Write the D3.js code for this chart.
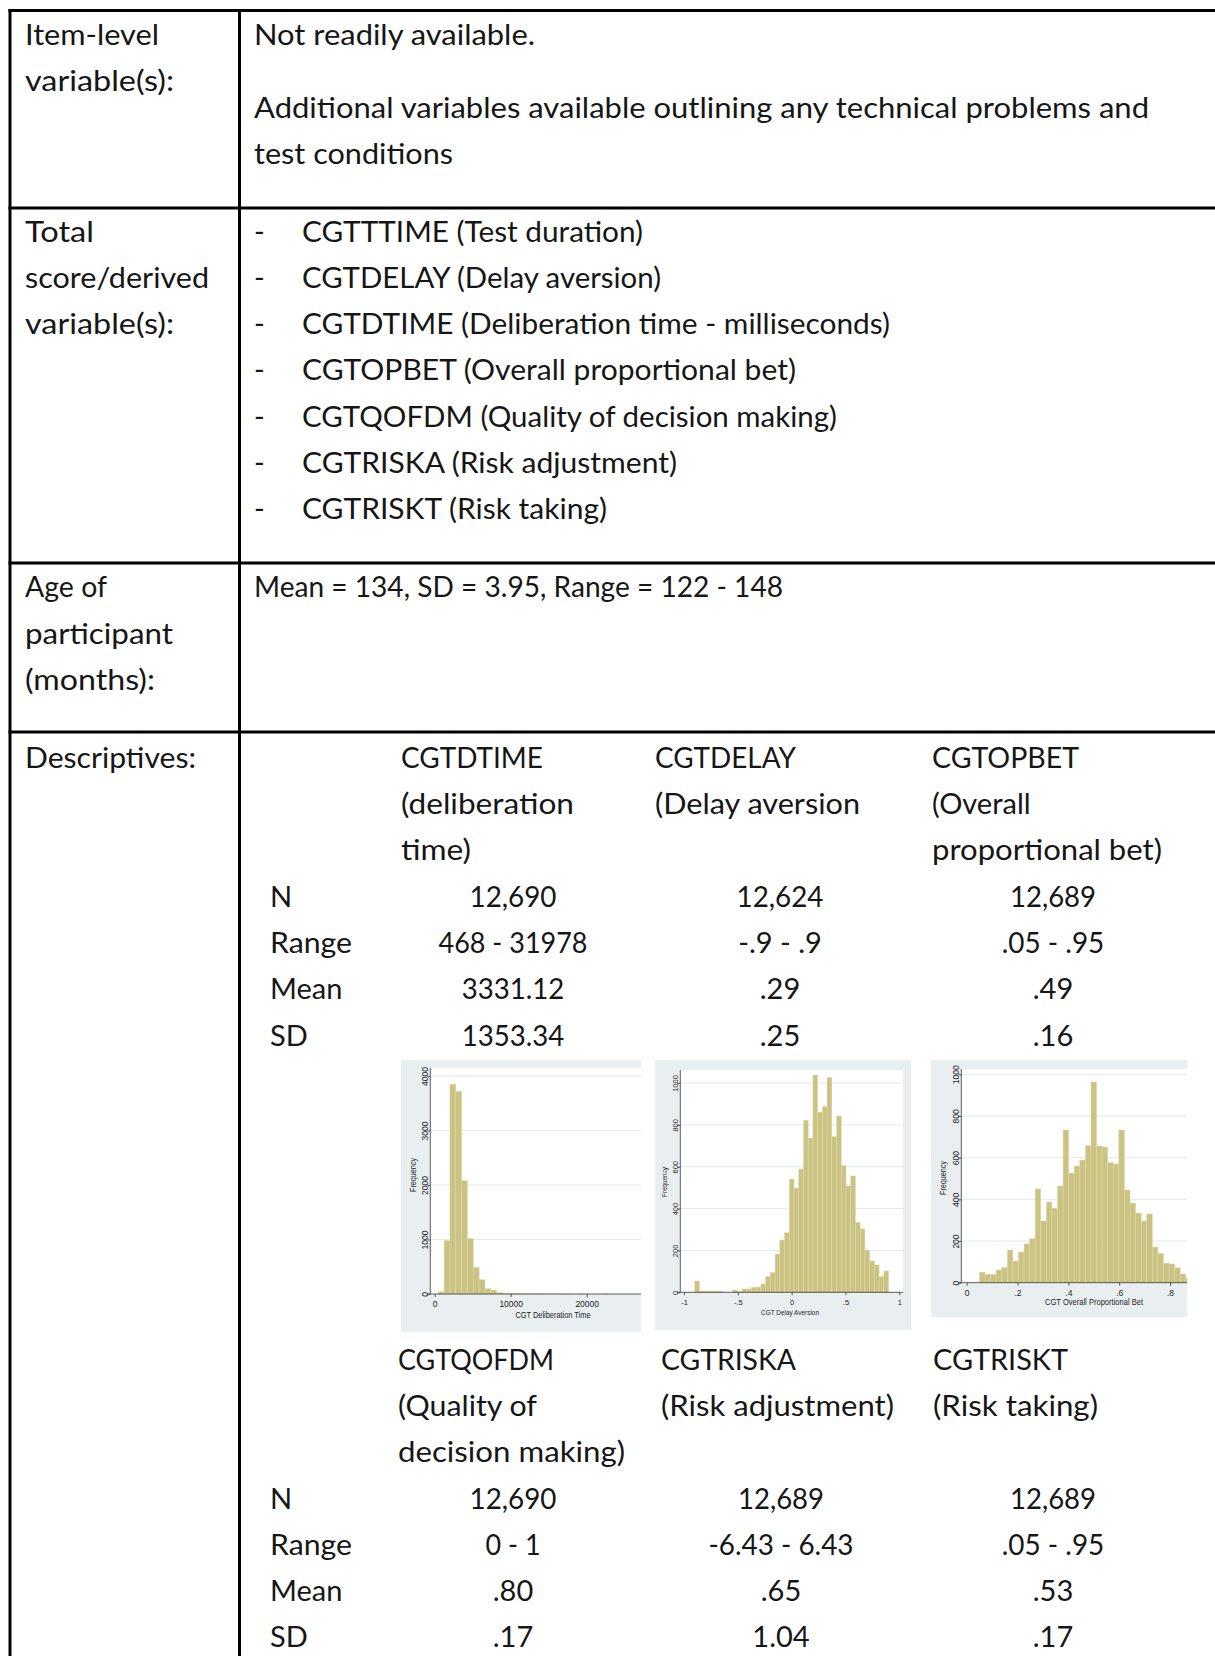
<!DOCTYPE html>
<html><head><meta charset="utf-8">
<script src="https://cdn.jsdelivr.net/npm/d3@7"></script>
<style>
html,body{margin:0;padding:0;background:#fff;}
svg{display:block;}
</style></head>
<body>
<svg id="page" width="1215" height="1656"></svg>
<script>
// ---------------- DATA ----------------
const rowLabels = [["Item-level","variable(s):"],["Total","score/derived","variable(s):"],["Age of","participant","(months):"],["Descriptives:"]];
const itemLevelText = ["Not readily available.","Additional variables available outlining any technical problems and","test conditions"];
const derivedVars = ["CGTTTIME (Test duration)","CGTDELAY (Delay aversion)","CGTDTIME (Deliberation time - milliseconds)","CGTOPBET (Overall proportional bet)","CGTQOFDM (Quality of decision making)","CGTRISKA (Risk adjustment)","CGTRISKT (Risk taking)"];
const ageText = "Mean = 134, SD = 3.95, Range = 122 - 148";
const statLabels = ["N","Range","Mean","SD"];
const headers1 = [["CGTDTIME","(deliberation","time)"],["CGTDELAY","(Delay aversion"],["CGTOPBET","(Overall","proportional bet)"]];
const values1 = [["12,690","468 - 31978","3331.12","1353.34"],["12,624","-.9 - .9",".29",".25"],["12,689",".05 - .95",".49",".16"]];
const headers2 = [["CGTQOFDM","(Quality of","decision making)"],["CGTRISKA","(Risk adjustment)"],["CGTRISKT","(Risk taking)"]];
const values2 = [["12,690","0 - 1",".80",".17"],["12,689","-6.43 - 6.43",".65","1.04"],["12,689",".05 - .95",".53",".17"]];

// histogram 1: CGT Deliberation Time (41 bins from 468 to 31978)
const dtimeRange = [468, 31978];
const dtimeCounts = [40,982,3848,3720,2079,1018,488,262,98,73,24,12,8,6,4,3,3,2,2,1,1,1,1,0,1,0,0,0,1,0,0,0,0,0,0,0,0,0,0,0,1];
const dtimeXTicks = [0,10000,20000];
const dtimeYTicks = [0,1000,2000,3000,4000];
// histogram 2: CGT Delay Aversion (41 bins from -.9 to .9)
const delayRange = [-0.9, 0.9];
const delayCounts = [54,6,6,6,6,5,0,0,11,5,16,16,24,25,40,75,94,183,250,285,541,498,589,822,737,1038,861,887,1027,744,842,605,508,556,334,303,202,150,131,75,102];
const delayXTicks = [-1,-0.5,0,0.5,1];
const delayXLabels = ["-1","-.5","0",".5","1"];
const delayYTicks = [0,200,400,600,800,1000];
// histogram 3: CGT Overall Proportional Bet (41 bins from .05 to .95)
const opbetRange = [0.05, 0.95];
const opbetCounts = [51,40,40,61,72,157,104,147,186,211,450,296,387,358,464,733,526,560,589,658,963,656,651,576,570,733,445,382,334,296,330,171,141,94,90,72,42,24,15,10,8];
const opbetXTicks = [0,0.2,0.4,0.6,0.8];
const opbetXLabels = ["0",".2",".4",".6",".8"];
const opbetYTicks = [0,200,400,600,800,1000];

// ---------------- STYLE: rendered widths of strings in the reference ----------------
const textWidths = new Map([
  ["Item-level",134],["variable(s):",149],["Total",69],["score/derived",184],["participant",148],
  ["(months):",130],["Descriptives:",171],["Age of",82],
  ["Not readily available.",281],["Additional variables available outlining any technical problems and",895],
  ["test conditions",199],
  ["CGTTTIME (Test duration)",341],["CGTDELAY (Delay aversion)",359],
  ["CGTDTIME (Deliberation time - milliseconds)",588],["CGTOPBET (Overall proportional bet)",494],
  ["CGTQOFDM (Quality of decision making)",535],["CGTRISKA (Risk adjustment)",375],["CGTRISKT (Risk taking)",305],
  ["Mean = 134, SD = 3.95, Range = 122 - 148",529],
  ["CGTDTIME",142],["(deliberation",173],["time)",70],["CGTDELAY",141],["(Delay aversion",205],
  ["CGTOPBET",147],["proportional bet)",230],["CGTQOFDM",156],["(Quality of",139],["decision making)",227],
  ["CGTRISKA",135],["(Risk adjustment)",233],["CGTRISKT",135],["(Risk taking)",165],
  ["Range",82],
  ["12,690",87],["468 - 31978",149],["3331.12",102.5],["1353.34",102.5],["12,624",87],["12,689",86],
  [".05 - .95",102.5],["-6.43 - 6.43",145],["0 - 1",55]
]);

// ---------------- DRAW ----------------
const svg = d3.select("#page");
const FONT = "Lato, 'Source Sans Pro', sans-serif";
const FS = 29;
const INK = "#161616";

function text(x, y, s, anchor) {
  const t = svg.append("text").attr("x", x).attr("y", y).attr("text-anchor", anchor || "start")
    .attr("font-family", FONT).attr("font-size", FS).attr("fill", INK).text(s);
  if (textWidths.has(s)) t.attr("textLength", textWidths.get(s)).attr("lengthAdjust", "spacingAndGlyphs");
}

// table lines
const lineW = 3;
const hLines = [10.5, 208, 563, 732];
hLines.forEach(y => svg.append("line").attr("x1", 8.5).attr("x2", 1215).attr("y1", y).attr("y2", y)
  .attr("stroke", "#000").attr("stroke-width", lineW));
[10, 239.5].forEach(x => svg.append("line").attr("x1", x).attr("x2", x).attr("y1", 9).attr("y2", 1656)
  .attr("stroke", "#000").attr("stroke-width", lineW));

// left column labels
const labelBase = [[45, 91], [242, 288, 334], [597, 644, 690], [768]];
rowLabels.forEach((lines, i) => lines.forEach((s, j) => text(25, labelBase[i][j], s)));

// row 1 content
[45, 118, 164].forEach((y, i) => text(254, y, itemLevelText[i]));
// row 2 bullets
const bulletY = [242, 288, 334, 380, 427, 473, 519];
derivedVars.forEach((s, i) => { text(254, bulletY[i], "-"); text(302, bulletY[i], s); });
// row 3
text(254, 597, ageText);

// descriptives group 1
const colLeft1 = [401, 655, 932];
const colCenter = [513, 780, 1053];
const headY1 = [768, 814, 860];
headers1.forEach((h, c) => h.forEach((s, j) => text(colLeft1[c], headY1[j], s)));
const statY1 = [906.5, 952.5, 999, 1045.5];
statLabels.forEach((s, i) => text(270, statY1[i], s));
values1.forEach((vals, c) => vals.forEach((s, i) => text(colCenter[c], statY1[i], s, "middle")));

// descriptives group 2
const colLeft2 = [398, 661, 933];
const headY2 = [1370, 1416, 1462];
headers2.forEach((h, c) => h.forEach((s, j) => text(colLeft2[c], headY2[j], s)));
const statY2 = [1509, 1555, 1601, 1647];
statLabels.forEach((s, i) => text(270, statY2[i], s));
values2.forEach((vals, c) => vals.forEach((s, i) => text(colCenter[c] + (c === 1 ? 1 : 0), statY2[i], s, "middle")));

// ---------------- HISTOGRAMS ----------------
const PANEL = "#e9eff1", GRID = "#e1e9ec", BAR = "#cbc383", BAR_EDGE = "#e0d9a6";
const SFONT = "'Liberation Sans Narrow', 'Arial Narrow', 'Liberation Sans', Arial, sans-serif";

function histogram(o, id) {
  const g = svg.append("g");
  const clip = svg.append("clipPath").attr("id", id);
  clip.append("rect").attr("x", o.panel[0]).attr("y", o.panel[1]).attr("width", o.panel[2]).attr("height", o.panel[3]);
  g.attr("clip-path", `url(#${id})`);
  g.append("rect").attr("x", o.panel[0]).attr("y", o.panel[1]).attr("width", o.panel[2]).attr("height", o.panel[3]).attr("fill", PANEL);
  const x = d3.scaleLinear().domain(o.xDom).range(o.xRng);
  const y = d3.scaleLinear().domain(o.yDom).range(o.yRng);
  // plot region
  g.append("rect").attr("x", o.axisX).attr("y", o.plotTop).attr("width", o.plotRight - o.axisX).attr("height", y(0) - o.plotTop).attr("fill", "#fff");
  // gridlines
  g.selectAll(null).data(o.yTicks.filter(d => d > 0)).join("line")
    .attr("x1", o.axisX).attr("x2", o.plotRight).attr("y1", d => y(d)).attr("y2", d => y(d))
    .attr("stroke", GRID).attr("stroke-width", 1);
  // bars
  const n = o.counts.length, bw = (o.range[1] - o.range[0]) / n;
  g.selectAll(null).data(o.counts).join("rect")
    .attr("x", (d, i) => x(o.range[0] + i * bw))
    .attr("width", (d, i) => x(o.range[0] + (i + 1) * bw) - x(o.range[0] + i * bw))
    .attr("y", d => y(d)).attr("height", d => y(0) - y(d))
    .attr("fill", BAR).attr("stroke", BAR_EDGE).attr("stroke-width", 0.5);
  // y axis
  const ya = d3.axisLeft(y).tickValues(o.yTicks).tickSize(3).tickPadding(3).tickFormat(d3.format("d"));
  const yg = g.append("g").attr("transform", `translate(${o.axisX},0)`).call(ya);
  yg.select(".domain").attr("d", `M-3,${y(0)}H0V${o.plotTop}`).attr("stroke", "#333").attr("stroke-width", 0.8);
  yg.selectAll(".tick line").attr("stroke", "#333").attr("stroke-width", 0.8);
  yg.selectAll(".tick text").attr("font-family", SFONT).attr("font-size", o.fs).attr("fill", "#222")
    .attr("text-anchor", "middle").attr("transform", `translate(${-o.ylabOff},0) rotate(-90)`)
    .attr("x", 0).attr("dy", "0.35em");
  // x axis
  const xa = d3.axisBottom(x).tickValues(o.xTicks).tickSize(3).tickPadding(4)
    .tickFormat((d, i) => o.xLabels ? o.xLabels[i] : d3.format("d")(d));
  const xg = g.append("g").attr("transform", `translate(0,${y(0)})`).call(xa);
  xg.select(".domain").attr("d", `M${o.axisX},0H${o.axisRight}`).attr("stroke", "#333").attr("stroke-width", 0.8);
  xg.selectAll(".tick line").attr("stroke", "#333").attr("stroke-width", 0.8);
  xg.selectAll(".tick text").attr("font-family", SFONT).attr("font-size", o.fs).attr("fill", "#222");
  // titles
  g.append("text").attr("x", o.xTitle[0]).attr("y", o.xTitle[1]).attr("text-anchor", "middle")
    .attr("font-family", SFONT).attr("font-size", o.fs).attr("fill", "#222")
    .attr("textLength", o.xTitle[2]).attr("lengthAdjust", "spacingAndGlyphs").text(o.xTitleText);
  g.append("text").attr("transform", `translate(${o.yTitle[0]},${o.yTitle[1]}) rotate(-90)`).attr("text-anchor", "middle")
    .attr("font-family", SFONT).attr("font-size", o.fs).attr("fill", "#222")
    .attr("textLength", o.yTitle[2]).attr("lengthAdjust", "spacingAndGlyphs").text("Frequency");
}

histogram({
  panel: [401, 1060, 240, 272], counts: dtimeCounts, range: dtimeRange,
  xDom: [0, 10000], xRng: [434.7, 510.7], yDom: [0, 4000], yRng: [1294, 1076],
  axisX: 430.3, plotTop: 1068, plotRight: 641, axisRight: 641,
  xTicks: dtimeXTicks, yTicks: dtimeYTicks, fs: 8.5, ylabOff: 5,
  xTitle: [553, 1318, 75], xTitleText: "CGT Deliberation Time", yTitle: [416, 1175, 34]
}, "c1");
histogram({
  panel: [655, 1060, 256, 270], counts: delayCounts, range: delayRange,
  xDom: [-1, 1], xRng: [684, 899.3], yDom: [0, 1000], yRng: [1292.3, 1083],
  axisX: 680.3, plotTop: 1070, plotRight: 903, axisRight: 903,
  xTicks: delayXTicks, xLabels: delayXLabels, yTicks: delayYTicks, fs: 7.5, ylabOff: 5,
  xTitle: [790, 1315, 58], xTitleText: "CGT Delay Aversion", yTitle: [667, 1182, 30]
}, "c2");
histogram({
  panel: [931, 1060, 256, 257], counts: opbetCounts, range: opbetRange,
  xDom: [0, 0.8], xRng: [966.7, 1170], yDom: [0, 1000], yRng: [1282.7, 1074.3],
  axisX: 961.3, plotTop: 1069, plotRight: 1187, axisRight: 1187,
  xTicks: opbetXTicks, xLabels: opbetXLabels, yTicks: opbetYTicks, fs: 8.5, ylabOff: 5,
  xTitle: [1094, 1305, 98], xTitleText: "CGT Overall Proportional Bet", yTitle: [946, 1178, 34]
}, "c3");
</script>
</body></html>
